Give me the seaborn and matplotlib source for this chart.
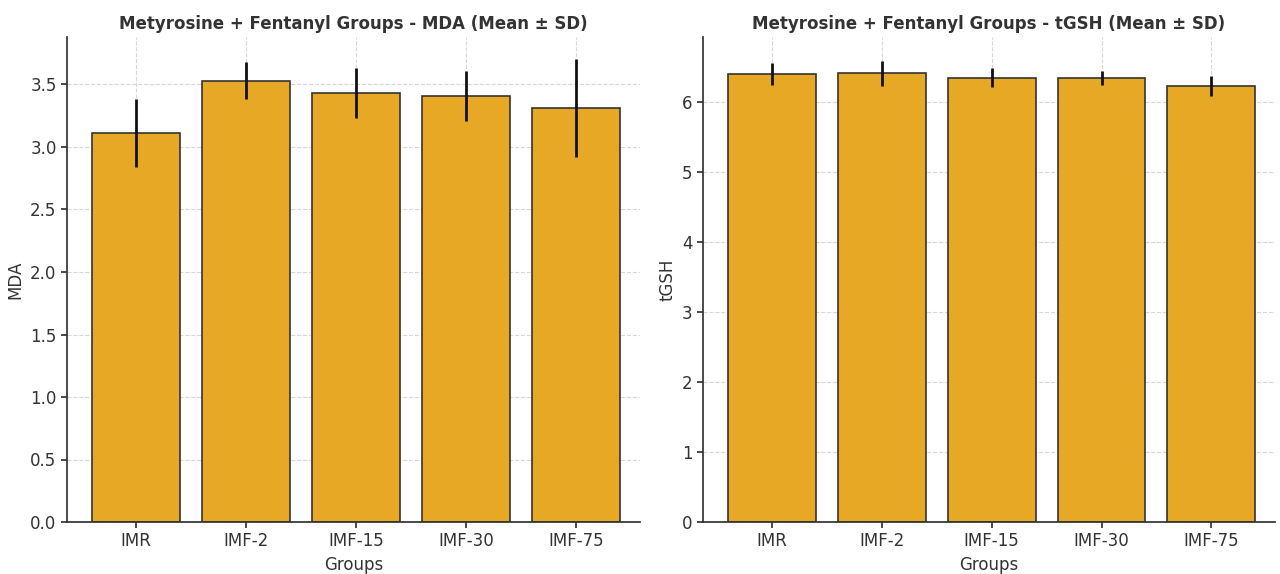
import matplotlib
matplotlib.use("Agg")
import matplotlib.pyplot as plt
import seaborn as sns
import pandas as pd
import numpy as np

groups = ["IMR", "IMF-2", "IMF-15", "IMF-30", "IMF-75"]
mda_mean = [3.11, 3.53, 3.43, 3.41, 3.31]
mda_sd = [0.27, 0.15, 0.20, 0.20, 0.39]
tgsh_mean = [6.40, 6.41, 6.35, 6.34, 6.23]
tgsh_sd = [0.16, 0.18, 0.14, 0.10, 0.14]

sns.set_theme(style="white")
plt.rcParams['font.family'] = ['DejaVu Sans']

fig = plt.figure(figsize=(12.8, 5.74), dpi=100)
ax1 = fig.add_axes([67/1280, 52/574, 573/1280, 485/574])
ax2 = fig.add_axes([703/1280, 52/574, 572/1280, 485/574])

bar_color = "#E6A825"
for ax, mean, sd, ylabel, title in [
    (ax1, mda_mean, mda_sd, "MDA", "Metyrosine + Fentanyl Groups - MDA (Mean ± SD)"),
    (ax2, tgsh_mean, tgsh_sd, "tGSH", "Metyrosine + Fentanyl Groups - tGSH (Mean ± SD)"),
]:
    df = pd.DataFrame({"Groups": groups, "val": mean, "sd": sd})
    sns.barplot(data=df, x="Groups", y="val", ax=ax, color=bar_color,
                saturation=1, width=0.8, edgecolor="#333333", linewidth=1.2,
                errorbar=None, zorder=2)
    ax.errorbar(x=np.arange(len(groups)), y=df["val"], yerr=df["sd"],
                fmt="none", ecolor="#111111", elinewidth=2, capsize=0, zorder=3)
    ax.set_axisbelow(True)
    ax.grid(True, linestyle="--", color="#cccccc", linewidth=0.8, alpha=0.8)
    ax.set_xlim(-0.63, 4.58)
    ax.set_ylabel(ylabel, fontsize=12, color="#333333")
    ax.set_xlabel("Groups", fontsize=12, color="#333333")
    ax.set_title(title, fontsize=12, fontweight="bold", color="#333333")
    for s in ["top", "right"]:
        ax.spines[s].set_visible(False)
    for s in ["left", "bottom"]:
        ax.spines[s].set_color("#333333")
    ax.tick_params(axis="both", labelsize=12, colors="#333333", length=4, left=True, bottom=True)

ax1.set_ylim(0, 3.88)
ax1.set_yticks(np.arange(0, 3.51, 0.5))
ax1.set_yticklabels([f"{v:.1f}" for v in np.arange(0, 3.51, 0.5)])
ax2.set_ylim(0, 6.93)
ax2.set_yticks(range(0, 7))

fig.savefig("out.png", dpi=100)
